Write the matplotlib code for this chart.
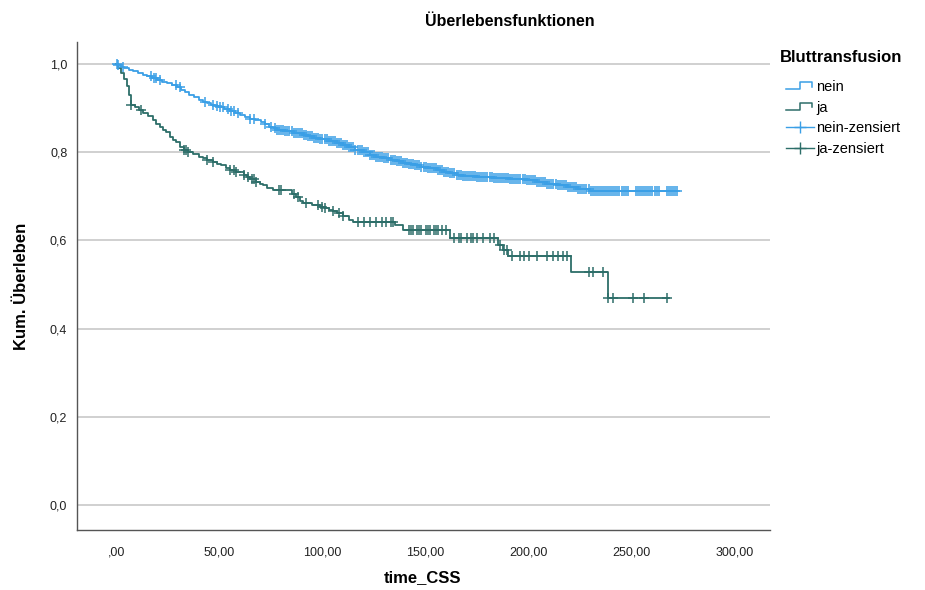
import numpy as np
import matplotlib
matplotlib.use('Agg')
import matplotlib.pyplot as plt
from matplotlib.lines import Line2D
from matplotlib.legend_handler import HandlerBase

plt.rcParams['font.family'] = ['Liberation Sans', 'DejaVu Sans']

# Kaplan-Meier steps: event time -> survival after event
nein_times = [1, 2.5, 4, 6, 8, 10.5, 13, 15, 17.5, 20, 22, 24.5, 27, 29.5, 31.5, 33.5, 35.5,
              37.5, 40, 42, 44, 46, 48, 50, 52.5, 55, 57.5, 60, 62.5, 65, 67.5, 70, 72, 74,
              76, 78, 82, 86, 90.5, 93, 96, 99, 103, 107, 110, 113, 116, 119.5, 123, 126,
              129.5, 133, 136, 139, 142, 145, 148, 151, 155.5, 159, 162, 165, 168, 175, 183,
              191, 199, 204, 209, 214, 218.5, 224, 229.5]
nein_surv = [0.998, 0.994, 0.99, 0.987, 0.984, 0.98, 0.975, 0.972, 0.968, 0.964, 0.96, 0.956,
             0.952, 0.948, 0.942, 0.936, 0.93, 0.925, 0.919, 0.914, 0.911, 0.908, 0.905, 0.902,
             0.897, 0.893, 0.888, 0.884, 0.88, 0.876, 0.872, 0.868, 0.863, 0.858, 0.854, 0.85,
             0.847, 0.843, 0.839, 0.836, 0.833, 0.829, 0.825, 0.821, 0.816, 0.811, 0.806, 0.8,
             0.794, 0.79, 0.786, 0.782, 0.779, 0.776, 0.773, 0.77, 0.767, 0.764, 0.76, 0.756,
             0.752, 0.749, 0.746, 0.744, 0.741, 0.739, 0.737, 0.733, 0.729, 0.725, 0.72, 0.716,
             0.712]
nein_end = 272

ja_times = [1, 2.5, 4, 5, 6, 7, 9, 11, 13, 15.5, 18, 19.5, 21, 22.5, 24, 26, 27.5, 29, 31, 33,
            35, 37, 40, 42, 44, 47, 49, 51, 53, 55, 58, 62, 63.5, 65, 68, 69.5, 71, 73, 76,
            85, 87, 89, 90.5, 95, 99, 101, 103, 105, 107, 110, 113, 115, 135, 139, 162, 185,
            187.5, 190, 220.5, 238.5]
ja_surv = [0.99, 0.98, 0.965, 0.95, 0.93, 0.907, 0.902, 0.896, 0.89, 0.883, 0.873, 0.865,
           0.857, 0.851, 0.845, 0.834, 0.828, 0.823, 0.812, 0.805, 0.801, 0.797, 0.789, 0.786,
           0.783, 0.778, 0.774, 0.77, 0.765, 0.76, 0.754, 0.748, 0.744, 0.74, 0.732, 0.728,
           0.725, 0.719, 0.714, 0.706, 0.698, 0.69, 0.685, 0.68, 0.676, 0.673, 0.67, 0.666,
           0.662, 0.655, 0.646, 0.642, 0.635, 0.624, 0.605, 0.59, 0.578, 0.565, 0.529, 0.469]
ja_end = 268

nein_censored = [0.5, 1, 3.5, 17, 18.5, 19.5, 21, 29, 31, 43, 47, 49, 50.5, 52, 54, 55.5, 57, 59,
                 65, 67, 72, 75, 77, 78, 79, 80, 81, 82, 83, 84, 85, 86, 87, 88, 89, 90, 91, 92,
                 93, 94, 95, 96, 97, 98, 99, 100, 101, 102, 103, 104, 105, 106, 107, 108, 109,
                 110, 111, 112, 113, 114, 115, 116, 117, 118, 119, 120, 121, 122, 123, 124, 125,
                 126, 127, 128, 129, 130, 131, 132, 133, 134, 135, 136, 137, 138, 139, 140, 141,
                 142, 143, 144, 145, 146, 147, 148, 149, 150, 151, 152, 153, 154, 155, 156, 157,
                 158, 159, 160, 161, 162, 163, 164, 165, 166, 167, 168, 169, 170, 171, 172, 173,
                 174, 175, 176, 177, 178, 179, 180, 181, 182, 183, 184, 185, 186, 187, 188, 189,
                 190, 191, 192, 193, 194, 195, 196, 197, 198, 199, 200, 201, 202, 203, 204, 205,
                 206, 207, 208, 209, 210, 211, 212, 213, 214, 215, 216, 217, 218, 219, 220, 221,
                 222, 223, 224, 225, 226, 227, 228, 229, 230, 231, 232, 233, 234, 235, 236, 237,
                 238, 239, 240, 241, 242, 243, 244, 245, 246, 247, 248, 252, 253, 254, 255, 256,
                 257, 258, 259, 260, 261, 262, 263, 267, 268, 269, 270, 271, 272]
ja_censored = [7, 12, 33, 34, 35, 44, 47, 55, 57, 58, 62, 64, 66, 67, 68, 79, 80, 86, 88, 92,
               98, 100, 101, 105, 108, 110, 117, 120, 123, 126, 129, 131, 133, 134, 142, 143,
               144, 146, 147, 148, 150, 151, 152, 154, 155, 156, 158, 160, 164, 166, 167, 170,
               172, 173, 175, 178, 181, 183, 186, 188, 189.5, 192, 196, 197.5, 200, 204, 209,
               212, 214, 216.5, 218.5, 229, 231, 236, 238.5, 241, 250.5, 256, 267]

col_nein = '#3a9fe6'
col_ja = '#2d6e69'


def level_at(times, surv, t):
    t_arr = np.array([0] + times)
    s_arr = np.array([1.0] + surv)
    idx = np.searchsorted(t_arr, t, side='right') - 1
    return s_arr[idx]


class StepHandler(HandlerBase):
    def create_artists(self, legend, orig_handle, xdescent, ydescent, width, height, fontsize, trans):
        x0 = -xdescent
        y0 = -ydescent
        xs = [x0, x0 + 0.5 * width, x0 + 0.5 * width, x0 + 0.95 * width, x0 + 0.95 * width]
        ys = [y0 + 0.15 * height, y0 + 0.15 * height, y0 + 0.85 * height, y0 + 0.85 * height, y0 + 0.4 * height]
        ln = Line2D(xs, ys, color=orig_handle.get_color(), lw=orig_handle.get_linewidth(), transform=trans)
        return [ln]


fig = plt.figure(figsize=(9.25, 5.9), dpi=100)
ax = fig.add_axes([77 / 925, 1 - 530 / 590, (770 - 77) / 925, (530 - 42) / 590])

for times, surv, end, cens, col in [(nein_times, nein_surv, nein_end, nein_censored, col_nein),
                                    (ja_times, ja_surv, ja_end, ja_censored, col_ja)]:
    xs = [0] + times + [end]
    ys = [1.0] + surv + [surv[-1]]
    ax.step(xs, ys, where='post', color=col, lw=1.3, zorder=3)
    cy = [level_at(times, surv, t) for t in cens]
    ax.plot(cens, cy, marker='+', ms=7.5, mew=1.1, color=col, lw=0, zorder=4)

ax.set_xlim(-19, 317)
ax.set_ylim(-0.057, 1.05)
ax.set_xticks([0, 50, 100, 150, 200, 250, 300])
ax.set_xticklabels([',00', '50,00', '100,00', '150,00', '200,00', '250,00', '300,00'])
ax.set_yticks([0, 0.2, 0.4, 0.6, 0.8, 1.0])
ax.set_yticklabels(['0,0', '0,2', '0,4', '0,6', '0,8', '1,0'])
ax.tick_params(length=0, labelsize=9, colors='#222222')
ax.tick_params(axis='x', pad=12)
ax.tick_params(axis='y', pad=7)
ax.grid(axis='y', color='#c8c8c8', lw=1.2)
ax.set_axisbelow(True)
for s in ['top', 'right']:
    ax.spines[s].set_visible(False)
for s in ['left', 'bottom']:
    ax.spines[s].set_color('#555555')
    ax.spines[s].set_linewidth(1.0)

fig.text(510 / 925, 1 - 22 / 590, 'Überlebensfunktionen', ha='center', va='center',
         fontsize=11.5, fontweight='bold')
fig.text(423 / 925, 1 - 578 / 590, 'time_CSS', ha='center', va='center',
         fontsize=12, fontweight='bold')
fig.text(22 / 925, 1 - 286 / 590, 'Kum. Überleben', ha='center', va='center',
         rotation=90, fontsize=12, fontweight='bold')
fig.text(780 / 925, 1 - 58 / 590, 'Bluttransfusion', ha='left', va='center',
         fontsize=12, fontweight='bold')

h_nein = Line2D([], [], color=col_nein, lw=1.1)
h_ja = Line2D([], [], color=col_ja, lw=1.1)
h_nein_c = Line2D([], [], color=col_nein, lw=1.0, marker='+', ms=9, mew=1.0)
h_ja_c = Line2D([], [], color=col_ja, lw=1.0, marker='+', ms=9, mew=1.0)
leg = fig.legend([h_nein, h_ja, h_nein_c, h_ja_c], ['nein', 'ja', 'nein-zensiert', 'ja-zensiert'],
                 handler_map={h_nein: StepHandler(), h_ja: StepHandler()},
                 loc='upper left', bbox_to_anchor=(786 / 925, 1 - 80 / 590), frameon=False,
                 fontsize=10.5, handlelength=1.9, handletextpad=0.15,
                 labelspacing=0.45, numpoints=1, borderaxespad=0, borderpad=0)

fig.savefig('out.png', dpi=100)
